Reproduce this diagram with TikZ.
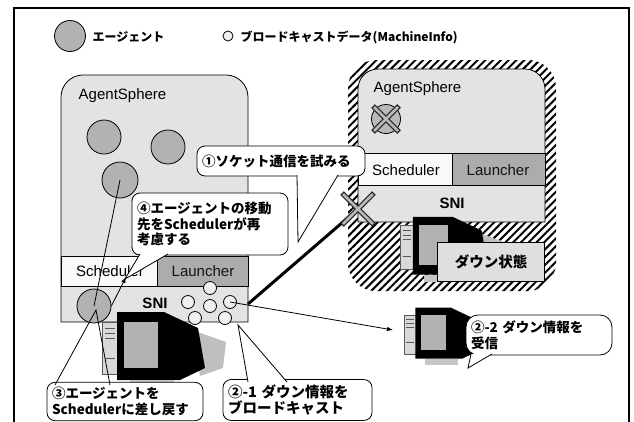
\documentclass[tikz,border=0pt]{standalone}
\usepackage{fontspec}
\setmainfont{Liberation Sans}
\newfontfamily\jp{Noto Sans CJK JP}
\usetikzlibrary{patterns.meta, arrows.meta}

\tikzset{
  agent/.style={circle, draw, fill=gray!60, minimum size=34pt, inner sep=0pt},
  bcast/.style={circle, draw, fill=gray!12, minimum size=13pt, inner sep=0pt},
  boxtext/.style={font=\fontsize{15}{17}\selectfont},
  callout/.style={draw, fill=white, rounded corners=8pt, align=left, inner sep=5pt,
                  font=\jp\bfseries\fontsize{13.5}{15.5}\selectfont},
  hatch/.style={pattern={Lines[angle=45, distance=5.5pt, line width=2pt]}},
  pics/cross/.style={code={
    \draw[line width=5pt, black!85] (-#1,-#1) -- (#1,#1) (#1,-#1) -- (-#1,#1);
    \draw[line width=2.6pt, gray!55] (-#1+1,-#1+1) -- (#1-1,#1-1) (#1-1,-#1+1) -- (-#1+1,#1-1);
  }},
  pics/pc/.style={code={
    % shadow behind the set
    \fill[gray!50] (90,12) -- (124,24) -- (121,50) -- (98,58) -- cycle;
    % tower
    \filldraw[fill=gray!30, draw=gray!70!black, line width=0.5pt] (0,4) rectangle (16,56);
    \foreach \k in {10,15,20,40}
      \draw[gray!70!black, line width=0.5pt] (3,\k) -- (13,\k);
    % monitor
    \fill[black] (15,-6) -- (62,-6) -- (96,10) -- (103,50) -- (78,62) -- (15,62) -- cycle;
    \fill[gray!60] (22,4) rectangle (56,50);
    % stand
    \fill[gray!45] (28,62) rectangle (72,70);
  }}
}

\begin{document}
\begin{tikzpicture}[x=1pt, y=-1pt, line width=0.8pt]
  \useasboundingbox (0,0) rectangle (634,421);

  % frame
  \draw[line width=1.3pt] (14,425) -- (14,8) -- (629,8) -- (629,425);

  % legend
  \node[agent, minimum size=31pt] (legagent) at (70,36) {};
  \node[anchor=west, font=\jp\bfseries\fontsize{12}{14}\selectfont] (legagenttext) at (89,37) {エージェント};
  \node[bcast, minimum size=10pt] (legbcast) at (228,36) {};
  \node[anchor=west, font=\jp\bfseries\fontsize{12}{14}\selectfont] (legbcasttext) at (237,37) {ブロードキャストデータ(MachineInfo)};

  % left AgentSphere
  \draw[fill=gray!22] (61,322) [rounded corners=22pt] -- (61,75) -- (248,75) [sharp corners] -- (248,322) -- cycle;
  \draw[fill=gray!5]  (61,256) rectangle (157,286);
  \draw[fill=gray!65] (157,256) rectangle (248,286);
  \node[boxtext, anchor=west] (lsphere) at (75,96) {AgentSphere};
  \node[boxtext] (lsched) at (110,271) {Scheduler};
  \node[boxtext, text=gray!15!black] (llaunch) at (203,271) {Launcher};
  \node[font=\bfseries\fontsize{15}{17}\selectfont] (lsni) at (155,303) {SNI};

  % right AgentSphere (down)
  \fill[hatch, rounded corners=28pt] (348,60) rectangle (556,291);
  \draw[fill=gray!22] (358,222) [rounded corners=20pt] -- (358,69) -- (545,69) [sharp corners] -- (545,222) -- cycle;
  \draw[fill=gray!5]  (358,153) rectangle (452,185);
  \draw[fill=gray!65] (452,153) rectangle (545,185);
  \node[boxtext, anchor=west] (rsphere) at (370,89) {AgentSphere};
  \node[boxtext] (rsched) at (406,170) {Scheduler};
  \node[boxtext, text=gray!15!black] (rlaunch) at (498,170) {Launcher};
  \node[font=\bfseries\fontsize{15}{17}\selectfont] (rsni) at (452,203) {SNI};
  \node[agent, minimum size=29pt, fill=gray!55] (deadagent) at (386,119) {};
  \pic at (deadagent) {cross=13};

  % machines
  \pic at (102,318) {pc};
  \pic[scale=0.85] at (400,222) {pc};
  \pic[scale=0.75] at (404,312) {pc};
  \node[draw, fill=gray!25, minimum width=107pt, minimum height=39pt,
        font=\jp\bfseries\fontsize{14.5}{17}\selectfont] (down) at (491,262) {ダウン状態};

  % agents
  \node[agent] (a1) at (104,137) {};
  \node[agent] (a2) at (168,147) {};
  \node[agent, minimum size=36pt] (a3) at (120,180) {};
  \node[agent] (sniagent) at (94,306) {};

  % broadcast data
  \foreach \name/\pos in {bc1/{(210,288)}, bc2/{(188,302)}, bc3/{(210,306)},
                          bc4/{(230,302)}, bc5/{(195,318)}, bc6/{(225,318)}}
    \node[bcast] (\name) at \pos {};

  % connections
  \coordinate (back) at (126,277);
  \coordinate (rcv) at (393,330);
  \coordinate (sockstart) at (248,304);
  \coordinate (xmark) at (358,209);
  \draw (a3.center) -- (sniagent.center);
  \draw[-{Latex[length=6pt]}] (sniagent.east) -- (back);
  \draw[-{Latex[length=6pt]}] (bc4.center) -- (rcv);
  \draw[line width=3pt] (sockstart) -- (xmark);
  \pic at (xmark) {cross=16};

  % callouts
  \node[callout, text width=158pt, minimum height=30pt] (c1) at (281,161) {①ソケット通信を試みる};
  \fill[white] (297,175) -- (298,242) -- (338,175) -- cycle;
  \draw (297,175) -- (298,242) -- (338,175);

  \node[callout, text width=146pt, minimum height=62pt] (c4) at (210,224)
    {④エージェントの移動\\先をSchedulerが再\\考慮する};
  \fill[white] (140,254) -- (125,279) -- (168,254) -- cycle;
  \draw (140,254) -- (125,279) -- (168,254);

  \node[callout, text width=146pt, minimum height=35pt] (c3) at (125,401.5)
    {③エージェントを\\Schedulerに差し戻す};
  \draw[white, line width=2pt] (57,384) -- (108,384);
  \draw (55,385) -- (96,310) -- (110,385);

  \node[callout, text width=139pt, minimum height=38pt,
        font=\jp\bfseries\fontsize{14.5}{16.5}\selectfont] (c21) at (297.5,400)
    {②-1 ダウン情報を\\ブロードキャスト};
  \fill[white] (248,382) -- (238,325) -- (287,382) -- cycle;
  \draw (248,382) -- (238,325) -- (287,382);

  \node[callout, rounded corners=12pt, text width=136pt, minimum height=40pt] (c22) at (539,335)
    {②-2 ダウン情報を\\受信};
  \fill[white] (471,354) -- (468,368) -- (492,354) -- cycle;
  \draw (471,354) -- (468,368) -- (492,354);

\end{tikzpicture}
\end{document}
